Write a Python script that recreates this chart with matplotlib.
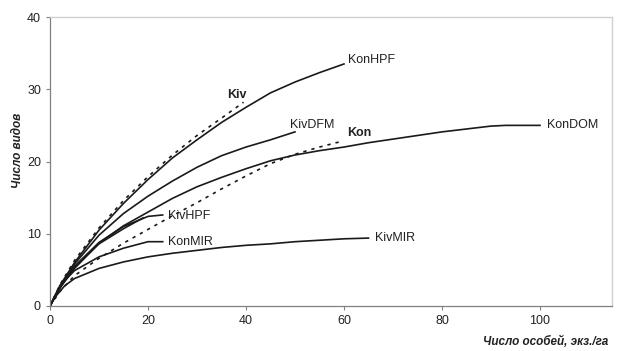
import matplotlib
matplotlib.use("Agg")
import matplotlib.pyplot as plt

plt.rcParams['font.family'] = ['Liberation Sans', 'DejaVu Sans']

# Data
konhpf_x = [0, 2, 5, 10, 15, 20, 25, 30, 35, 40, 45, 50, 55, 60]
konhpf_y = [0, 2.8, 6.0, 10.5, 14.2, 17.5, 20.5, 23.0, 25.4, 27.5, 29.5, 31.0, 32.3, 33.5]

kiv_x = [0, 2, 5, 10, 15, 20, 25, 30, 35, 39.5]
kiv_y = [0, 2.9, 6.3, 10.8, 14.6, 17.9, 20.9, 23.6, 26.0, 28.2]

kivdfm_x = [0, 2, 5, 10, 15, 20, 25, 30, 35, 40, 45, 50]
kivdfm_y = [0, 2.7, 5.8, 9.8, 12.8, 15.2, 17.3, 19.2, 20.8, 22.0, 23.0, 24.1]

kondom_x = [0, 2, 5, 10, 15, 20, 25, 30, 35, 40, 45, 50, 55, 60, 65, 70, 75, 80, 85, 90, 93, 100]
kondom_y = [0, 2.5, 5.2, 8.7, 11.1, 13.0, 14.9, 16.5, 17.8, 19.0, 20.1, 20.9, 21.5, 22.0, 22.6,
            23.1, 23.6, 24.1, 24.5, 24.9, 25.0, 25.0]

kon_x = [0, 2, 5, 10, 15, 20, 25, 30, 35, 40, 45, 50, 55, 59]
kon_y = [0, 2.0, 4.2, 6.6, 8.7, 10.6, 12.5, 14.3, 16.2, 18.0, 19.7, 21.0, 22.0, 22.7]

kivhpf_x = [0, 2, 5, 10, 15, 20, 23]
kivhpf_y = [0, 2.6, 5.5, 8.8, 11.0, 12.4, 12.6]

kivhpf2_x = [0, 2, 5, 10, 15, 19]
kivhpf2_y = [0, 2.5, 5.3, 8.6, 10.7, 12.2]

konmir_x = [0, 1, 3, 5, 10, 15, 20, 23]
konmir_y = [0, 1.4, 3.5, 4.9, 6.8, 8.0, 8.9, 8.9]

kivmir_x = [0, 1, 3, 5, 10, 15, 20, 25, 30, 35, 40, 45, 50, 55, 60, 65]
kivmir_y = [0, 1.2, 2.8, 3.8, 5.2, 6.1, 6.8, 7.3, 7.7, 8.1, 8.4, 8.6, 8.9, 9.1, 9.3, 9.4]

x_ticks = [0, 20, 40, 60, 80, 100]
y_ticks = [0, 10, 20, 30, 40]

fig = plt.figure(figsize=(6.18, 3.51), dpi=100)
ax = fig.add_axes([50/618, 45/351, 562/618, 289/351])

lw = 1.2
c = '#1a1a1a'
ax.plot(konhpf_x, konhpf_y, color=c, lw=lw)
ax.plot(kiv_x, kiv_y, color=c, lw=lw, linestyle=(0, (2, 3)))
ax.plot(kivdfm_x, kivdfm_y, color=c, lw=lw)
ax.plot(kondom_x, kondom_y, color=c, lw=lw)
ax.plot(kon_x, kon_y, color=c, lw=lw, linestyle=(0, (2, 3)))
ax.plot(kivhpf_x, kivhpf_y, color=c, lw=lw)
ax.plot(kivhpf2_x, kivhpf2_y, color=c, lw=lw)
ax.plot(konmir_x, konmir_y, color=c, lw=lw)
ax.plot(kivmir_x, kivmir_y, color=c, lw=lw)

fs = 9
ax.text(60.8, 34.0, 'KonHPF', fontsize=fs, va='center', ha='left', color='#222')
ax.text(38.2, 29.2, 'Kiv', fontsize=fs, va='center', ha='center', fontweight='bold', color='#222')
ax.text(49.0, 25.1, 'KivDFM', fontsize=fs, va='center', ha='left', color='#222')
ax.text(60.6, 23.9, 'Kon', fontsize=fs, va='center', ha='left', fontweight='bold', color='#222')
ax.text(101.4, 25.0, 'KonDOM', fontsize=fs, va='center', ha='left', color='#222')
ax.text(24.1, 12.5, 'KivHPF', fontsize=fs, va='center', ha='left', color='#222')
ax.text(24.1, 8.9, 'KonMIR', fontsize=fs, va='center', ha='left', color='#222')
ax.text(66.3, 9.4, 'KivMIR', fontsize=fs, va='center', ha='left', color='#222')

ax.set_xlim(0, 114.7)
ax.set_ylim(0, 40)
ax.set_xticks(x_ticks)
ax.set_yticks(y_ticks)
ax.tick_params(axis='both', labelsize=fs, colors='#808080', labelcolor='#222', length=3, width=0.8, direction='out')
for s in ['left', 'bottom']:
    ax.spines[s].set_color('#808080')
    ax.spines[s].set_linewidth(0.9)
for s in ['top', 'right']:
    ax.spines[s].set_color('#d0d0d0')
    ax.spines[s].set_linewidth(1.0)

fig.text(18/618, 1 - 150/351, 'Число видов', rotation=90, fontsize=8.5, fontstyle='italic',
         fontweight='bold', ha='center', va='center', color='#222')
fig.text(608/618, 1 - 342/351, 'Число особей, экз./га', fontsize=8.5, fontstyle='italic',
         fontweight='bold', ha='right', va='center', color='#222')

fig.savefig('out.png', dpi=100)
